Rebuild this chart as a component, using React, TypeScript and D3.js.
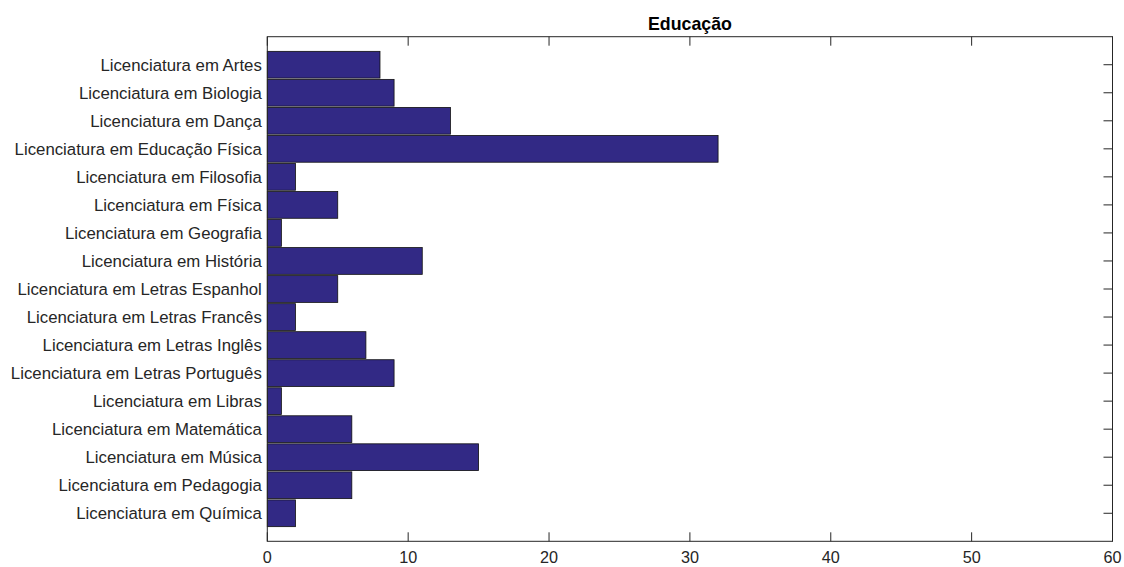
import React from "react";
import * as d3 from "d3";

const categories = [
  "Licenciatura em Artes",
  "Licenciatura em Biologia",
  "Licenciatura em Dança",
  "Licenciatura em Educação Física",
  "Licenciatura em Filosofia",
  "Licenciatura em Física",
  "Licenciatura em Geografia",
  "Licenciatura em História",
  "Licenciatura em Letras Espanhol",
  "Licenciatura em Letras Francês",
  "Licenciatura em Letras Inglês",
  "Licenciatura em Letras Português",
  "Licenciatura em Libras",
  "Licenciatura em Matemática",
  "Licenciatura em Música",
  "Licenciatura em Pedagogia",
  "Licenciatura em Química",
];
const values = [8, 9, 13, 32, 2, 5, 1, 11, 5, 2, 7, 9, 1, 6, 15, 6, 2];
const xTicks = [0, 10, 20, 30, 40, 50, 60];
const title = "Educação";

export default function App() {
  const W = 1124, H = 567;
  const left = 267.3, right = 1112.5, top = 36.7, bottom = 541.3;
  const x = d3.scaleLinear().domain([0, 60]).range([left, right]);
  const y = d3.scaleLinear().domain([0, categories.length + 1]).range([top, bottom]);
  const barW = 0.955;
  const axisColor = "#262626";
  const font = "'Liberation Sans', Arial, sans-serif";
  const tickLen = 9;
  return (
    <svg width={W} height={H} style={{ position: "absolute", left: 0, top: 0, background: "#fff" }}>
      <rect x={0} y={0} width={W} height={H} fill="#fff" />
      {values.map((v, i) => (
        <rect
          key={i}
          x={x(0)}
          y={y(i + 1 - barW / 2)}
          width={x(v) - x(0)}
          height={y(barW) - y(0)}
          fill="#322985"
          stroke="#111"
          strokeWidth={0.8}
        />
      ))}
      <rect x={left} y={top} width={right - left} height={bottom - top} fill="none" stroke={axisColor} strokeWidth={1} />
      {xTicks.map((t) => (
        <g key={t}>
          <line x1={x(t)} x2={x(t)} y1={bottom} y2={bottom - tickLen} stroke={axisColor} />
          <line x1={x(t)} x2={x(t)} y1={top} y2={top + tickLen} stroke={axisColor} />
          <text x={x(t)} y={563} textAnchor="middle" fontFamily={font} fontSize={16.2} fill={axisColor}>
            {t}
          </text>
        </g>
      ))}
      {categories.map((c, i) => (
        <g key={c}>
          <line x1={right} x2={right - tickLen} y1={y(i + 1)} y2={y(i + 1)} stroke={axisColor} />
          <text x={left - 5.5} y={y(i + 1)} dy="0.36em" textAnchor="end" fontFamily={font} fontSize={16.8} fill={axisColor}>
            {c}
          </text>
        </g>
      ))}
      <text x={690} y={30} textAnchor="middle" fontFamily={font} fontSize={17.8} fontWeight="bold" fill="#000">
        {title}
      </text>
    </svg>
  );
}
